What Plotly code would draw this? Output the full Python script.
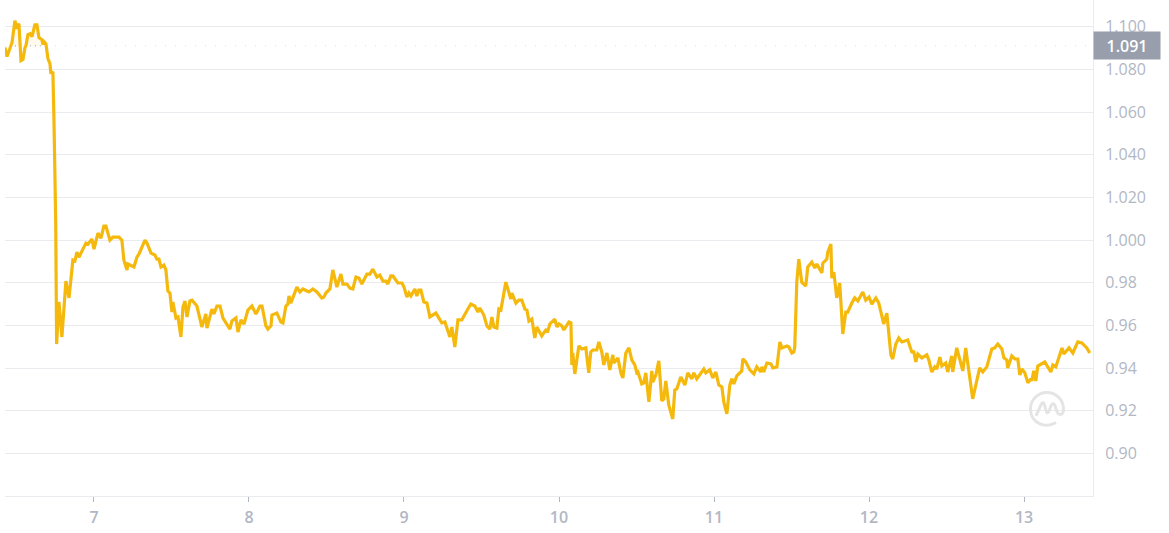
import plotly.graph_objects as go

days = [
 6.426,6.439,6.471,6.490,6.503,6.516,6.529,6.542,6.555,6.561,6.574,6.587,6.600,6.619,6.632,6.645,6.664,6.671,6.677,6.690,6.703,6.716,6.722,6.735,6.742,
 6.753,6.759,6.774,6.793,6.819,6.839,6.864,6.877,6.890,6.903,6.948,6.961,6.987,7.000,7.026,7.045,7.064,7.077,7.103,7.122,7.161,7.180,7.193,7.213,7.219,
 7.258,7.277,7.290,7.329,7.342,7.368,7.393,7.406,7.419,7.432,7.451,7.464,7.477,7.490,7.503,7.509,7.529,7.542,7.561,7.574,7.587,7.600,7.619,7.632,7.664,
 7.677,7.696,7.722,7.729,7.761,7.774,7.793,7.813,7.832,7.877,7.890,7.916,7.929,7.948,7.968,7.993,8.019,8.045,8.071,8.084,8.109,8.122,8.142,8.148,8.180,
 8.206,8.219,8.238,8.251,8.258,8.270,8.309,8.329,8.348,8.387,8.412,8.438,8.470,8.483,8.496,8.522,8.541,8.567,8.593,8.606,8.632,8.651,8.670,8.690,8.709,
 8.728,8.761,8.780,8.799,8.825,8.844,8.864,8.883,8.896,8.915,8.928,8.961,8.987,9.000,9.019,9.032,9.045,9.070,9.083,9.096,9.109,9.128,9.148,9.167,9.206,
 9.219,9.244,9.264,9.296,9.309,9.328,9.348,9.373,9.412,9.431,9.457,9.477,9.489,9.515,9.535,9.554,9.567,9.580,9.599,9.612,9.625,9.657,9.689,9.696,9.722,
 9.741,9.760,9.780,9.793,9.806,9.825,9.844,9.857,9.889,9.915,9.928,9.941,9.973,9.986,10.000,10.018,10.031,10.064,10.077,10.083,10.089,10.102,10.128,10.147,10.173,
 10.192,10.205,10.218,10.244,10.257,10.276,10.289,10.309,10.328,10.347,10.354,10.380,10.399,10.412,10.431,10.451,10.470,10.489,10.502,10.509,10.534,10.547,10.560,10.580,10.599,
 10.605,10.625,10.644,10.663,10.676,10.689,10.708,10.734,10.747,10.760,10.786,10.812,10.831,10.857,10.870,10.889,10.909,10.934,10.947,10.973,10.992,11.012,11.031,11.051,11.063,
 11.083,11.102,11.115,11.128,11.147,11.179,11.186,11.205,11.231,11.257,11.276,11.302,11.309,11.321,11.341,11.367,11.380,11.406,11.425,11.438,11.470,11.483,11.502,11.515,11.521,
 11.534,11.547,11.566,11.592,11.605,11.631,11.650,11.663,11.696,11.702,11.728,11.734,11.754,11.760,11.773,11.792,11.811,11.831,11.850,11.863,11.889,11.908,11.928,11.960,11.979,
 12.000,12.018,12.044,12.063,12.095,12.115,12.141,12.153,12.173,12.192,12.212,12.250,12.276,12.289,12.302,12.315,12.341,12.373,12.386,12.405,12.424,12.437,12.457,12.470,12.495,
 12.508,12.534,12.540,12.566,12.605,12.624,12.637,12.669,12.689,12.714,12.734,12.760,12.792,12.811,12.831,12.857,12.870,12.889,12.895,12.921,12.941,12.960,12.973,12.986,13.005,
 13.025,13.044,13.050,13.063,13.076,13.089,13.134,13.173,13.186,13.205,13.245,13.257,13.277,13.290,13.315,13.347,13.373,13.405,13.424,
]

prices = [
 1.0902,1.0860,1.0925,1.1028,1.0991,1.1014,1.0841,1.0846,1.0902,1.0911,1.0963,1.0967,1.0953,1.1009,1.1009,1.0949,1.0939,1.0916,1.0930,1.0920,1.0850,1.0827,1.0780,1.0789,1.0560,
 1.0092,0.9513,0.9710,0.9546,0.9808,0.9729,0.9906,0.9902,0.9944,0.9920,0.9986,0.9981,1.0005,0.9958,1.0033,1.0009,1.0066,1.0066,1.0000,1.0014,1.0014,1.0000,0.9906,0.9860,0.9888,
 0.9874,0.9920,0.9934,1.0000,0.9986,0.9939,0.9930,0.9911,0.9911,0.9874,0.9883,0.9860,0.9761,0.9752,0.9663,0.9710,0.9635,0.9640,0.9546,0.9686,0.9715,0.9640,0.9715,0.9719,0.9691,
 0.9649,0.9593,0.9654,0.9588,0.9677,0.9654,0.9691,0.9691,0.9635,0.9583,0.9621,0.9635,0.9569,0.9626,0.9607,0.9672,0.9691,0.9654,0.9691,0.9691,0.9598,0.9583,0.9598,0.9649,0.9658,
 0.9616,0.9612,0.9691,0.9700,0.9738,0.9705,0.9780,0.9757,0.9771,0.9757,0.9771,0.9757,0.9729,0.9733,0.9752,0.9771,0.9860,0.9780,0.9841,0.9794,0.9794,0.9775,0.9771,0.9827,0.9822,
 0.9794,0.9841,0.9841,0.9864,0.9827,0.9836,0.9808,0.9808,0.9794,0.9832,0.9832,0.9799,0.9799,0.9780,0.9733,0.9752,0.9738,0.9771,0.9738,0.9766,0.9766,0.9710,0.9705,0.9640,0.9658,
 0.9640,0.9612,0.9616,0.9546,0.9593,0.9499,0.9626,0.9626,0.9677,0.9700,0.9691,0.9663,0.9682,0.9649,0.9598,0.9583,0.9640,0.9593,0.9588,0.9677,0.9672,0.9803,0.9724,0.9752,0.9705,
 0.9719,0.9719,0.9677,0.9672,0.9621,0.9630,0.9541,0.9593,0.9551,0.9579,0.9574,0.9607,0.9630,0.9593,0.9607,0.9598,0.9579,0.9616,0.9612,0.9415,0.9471,0.9373,0.9504,0.9490,0.9495,
 0.9378,0.9476,0.9485,0.9485,0.9523,0.9476,0.9415,0.9471,0.9392,0.9462,0.9424,0.9448,0.9378,0.9354,0.9471,0.9495,0.9438,0.9415,0.9378,0.9382,0.9326,0.9331,0.9378,0.9242,0.9387,
 0.9335,0.9368,0.9434,0.9247,0.9256,0.9340,0.9228,0.9162,0.9298,0.9303,0.9359,0.9321,0.9378,0.9350,0.9378,0.9350,0.9368,0.9396,0.9378,0.9392,0.9354,0.9382,0.9321,0.9312,0.9242,
 0.9186,0.9321,0.9350,0.9326,0.9364,0.9387,0.9443,0.9429,0.9392,0.9373,0.9406,0.9382,0.9406,0.9382,0.9424,0.9420,0.9401,0.9406,0.9523,0.9495,0.9504,0.9499,0.9471,0.9476,0.9499,
 0.9803,0.9911,0.9803,0.9785,0.9874,0.9897,0.9869,0.9888,0.9846,0.9892,0.9911,0.9944,0.9981,0.9822,0.9850,0.9729,0.9799,0.9560,0.9663,0.9663,0.9705,0.9729,0.9715,0.9757,0.9719,
 0.9733,0.9700,0.9729,0.9705,0.9607,0.9658,0.9462,0.9443,0.9513,0.9541,0.9523,0.9532,0.9476,0.9476,0.9429,0.9466,0.9448,0.9462,0.9438,0.9382,0.9406,0.9396,0.9452,0.9410,0.9424,
 0.9382,0.9457,0.9382,0.9495,0.9387,0.9495,0.9424,0.9256,0.9321,0.9401,0.9382,0.9406,0.9490,0.9495,0.9513,0.9490,0.9448,0.9438,0.9401,0.9457,0.9443,0.9443,0.9368,0.9396,0.9378,
 0.9331,0.9350,0.9340,0.9387,0.9340,0.9410,0.9429,0.9382,0.9415,0.9406,0.9495,0.9466,0.9485,0.9495,0.9471,0.9523,0.9518,0.9495,0.9471,
]

current_price = 1.091
current_label = "1.091"
x_ticks = [7, 8, 9, 10, 11, 12, 13]
y_ticks = [0.90, 0.92, 0.94, 0.96, 0.98, 1.00, 1.02, 1.04, 1.06, 1.08, 1.10]
y_labels = ["0.90", "0.92", "0.94", "0.96", "0.98", "1.000", "1.020", "1.040", "1.060", "1.080", "1.100"]

GOLD = "#f5b90d"
GRID = "#eaebef"
LABEL = "#b2b7c4"
FONT = "Open Sans"

fig = go.Figure()
# faint fill above the opening-price baseline
fig.add_trace(go.Scatter(x=days, y=[current_price] * len(days), mode="lines",
                         line=dict(width=0), hoverinfo="skip", showlegend=False))
fig.add_trace(go.Scatter(x=days, y=[max(p, current_price) for p in prices], mode="lines",
                         line=dict(width=0), fill="tonexty", fillcolor="rgba(245,185,13,0.07)",
                         hoverinfo="skip", showlegend=False))
fig.add_trace(go.Scatter(x=days, y=prices, mode="lines",
                         line=dict(color=GOLD, width=3.2, shape="linear"),
                         showlegend=False))

shapes = [
    # dotted opening-price line
    dict(type="line", xref="paper", yref="y", x0=0, x1=1, y0=current_price, y1=current_price,
         line=dict(color="#e2e3e8", width=1, dash="1px,9px"), layer="below"),
    dict(type="line", xref="x", yref="y", x0=6.49, x1=6.66, y0=current_price, y1=current_price,
         line=dict(color="#9aa0ad", width=1, dash="1px,4px"), layer="below"),
    # watermark ring
    dict(type="path", xsizemode="pixel", ysizemode="pixel", xref="x", yref="y",
         xanchor=13.148, yanchor=0.9209,
         path="M 9,-13.5 C 4,-16.5 -2,-17 -7,-15 C -13,-12.5 -16.5,-6.5 -16.5,0 "
              "C -16.5,9 -9,16.5 0,16.5 C 9,16.5 16.5,9 16.5,0 C 16.5,-3 15.5,-5.5 13,-5.5 "
              "C 10,-5.5 9.5,-1 8.5,2 C 7.5,5 6,6.5 4.5,4 C 3,1 2,-4 0.5,-4 "
              "C -1,-4 -1.5,2 -3,5.5 C -4,7 -5,6 -6,4 L -11,-7",
         line=dict(color="#e4e4e4", width=3), fillcolor="rgba(0,0,0,0)", layer="above"),
]

fig.update_layout(
    width=1169, height=533, autosize=False,
    margin=dict(l=5, r=76, t=0, b=37, pad=0),
    paper_bgcolor="white", plot_bgcolor="white",
    showlegend=False,
    shapes=shapes,
    xaxis=dict(range=[6.426, 13.445], tickmode="array", tickvals=x_ticks,
               ticktext=[str(v) for v in x_ticks],
               showgrid=False, zeroline=False, showline=True, linecolor=GRID, linewidth=1,
               ticks="outside", ticklen=5, tickwidth=1, tickcolor=LABEL,
               ticklabelstandoff=2,
               tickfont=dict(family=FONT, size=16, color=LABEL, weight=600)),
    yaxis=dict(range=[0.8801, 1.1125], side="right", tickmode="array", tickvals=y_ticks,
               ticktext=y_labels, showgrid=True, gridcolor=GRID, gridwidth=1, zeroline=False,
               showline=True, linecolor=GRID, linewidth=1, ticks="",
               ticklabelstandoff=8,
               tickfont=dict(family=FONT, size=16, color=LABEL)),
    annotations=[dict(text=current_label, xref="paper", yref="y", x=1, y=current_price,
                      xanchor="left", yanchor="middle", showarrow=False, width=66, height=27,
                      bgcolor="#989eab", align="center", valign="middle", borderpad=0, yshift=0,
                      font=dict(family=FONT, size=16, color="white", weight=600))],
)

fig.write_html("out.html", config=dict(displayModeBar=False),
               post_script="document.body.style.margin='0';document.body.style.overflow='hidden';")
